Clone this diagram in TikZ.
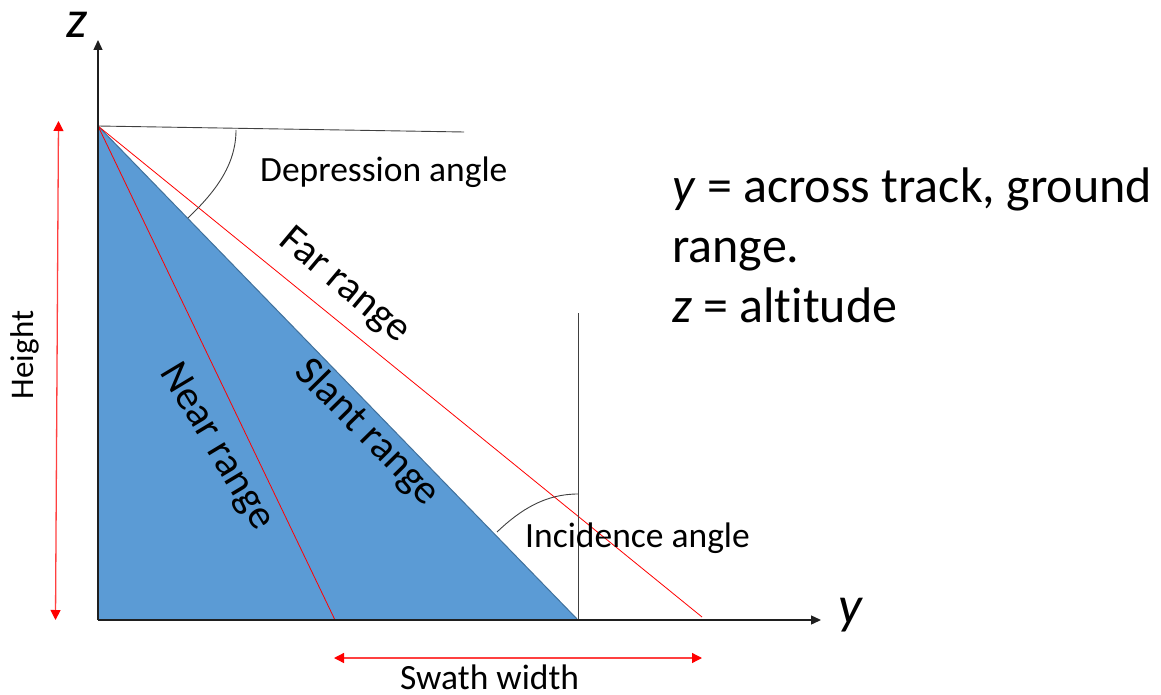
\documentclass[tikz,border=0pt]{standalone}
\usepackage{fontspec}
\setmainfont{Carlito}[Ligatures=NoCommon]
\usetikzlibrary{arrows.meta}
\definecolor{sarblue}{HTML}{5B9BD5}
\definecolor{saredge}{HTML}{41719C}
\definecolor{axisgray}{HTML}{1F1F1F}
\begin{document}
\begin{tikzpicture}[x=1pt,y=-1pt,
  axisline/.style={draw=axisgray,line width=1.3pt,-{Triangle[width=9pt,length=10pt]}},
  thinline/.style={draw=black!75,line width=0.9pt},
  redline/.style={draw=red,line width=0.8pt},
  redarrow/.style={draw=red!75,line width=1.3pt,{Triangle[width=10pt,length=10pt,fill=red,color=red]}-{Triangle[width=10pt,length=10pt,fill=red,color=red]}},
  lbl/.style={inner sep=0pt,font=\fontsize{35.5}{42}\selectfont},
  rlbl/.style={inner sep=0pt,font=\fontsize{41.5}{48}\selectfont},
  biglbl/.style={inner sep=0pt,font=\fontsize{50}{60}\selectfont},
  axlbl/.style={inner sep=0pt,font=\fontsize{53}{60}\selectfont\itshape}]
\useasboundingbox (0,0) rectangle (1161,695);
% key points
\coordinate (O) at (98,620);
\coordinate (T) at (98,126);
\coordinate (Ztop) at (98,40);
\coordinate (Yend) at (821,620);
\coordinate (Hend) at (464,132);
\coordinate (S) at (578,620);
\coordinate (N) at (335,620);
\coordinate (F) at (702,617);
\coordinate (V) at (578,313);
% blue triangle
\fill[sarblue] (T) -- (O) -- (S) -- cycle;
\draw[saredge,line width=1pt] (T) -- (S);
% ranges
\draw[redline] (T) -- (N);
\draw[redline] (T) -- (F);
% horizon and vertical
\draw[thinline] (T) -- (Hend);
\draw[thinline] (S) -- (V);
% angle arcs
\coordinate (DA1) at (236,130);
\coordinate (DA2) at (188,218);
\draw[thinline] (DA1) .. controls (236,166) and (214,193) .. (DA2);
\coordinate (IA1) at (578,494);
\coordinate (IA2) at (497,532);
\draw[thinline] (IA1) .. controls (546,494) and (521,509) .. (IA2);
% axes
\draw[axisline] (O) -- (Ztop);
\draw[axisline] (O) -- (Yend);
% dimension arrows
\coordinate (Ht) at (58.5,121);
\coordinate (Hb) at (55.5,620);
\draw[redarrow] (Ht) -- (Hb);
\coordinate (Wl) at (334,658);
\coordinate (Wr) at (702,658);
\draw[redarrow] (Wl) -- (Wr);
% labels
\node[axlbl,anchor=base] (zl) at (77,38) {z};
\node[axlbl,anchor=base] (yl) at (850,623) {y};
\node[lbl,anchor=base west] (dep) at (260,182) {Depression angle};
\node[lbl,anchor=base west] (inc) at (525,547) {Incidence angle};
\node[lbl,anchor=base west] (sw) at (400,689) {Swath width};
\node[inner sep=0pt,font=\fontsize{33}{40}\selectfont,rotate=90] (hl) at (25,355) {Height};
\node[rlbl,rotate=-40] (far) at (344,286) {Far range};
\node[rlbl,rotate=-45.5] (slant) at (367,433) {Slant range};
\node[rlbl,rotate=-59] (near) at (216,447) {Near range};
\node[biglbl,anchor=base west] (t1) at (672,202) {\textit{y} = across track, ground};
\node[biglbl,anchor=base west] (t2) at (672,262) {range.};
\node[biglbl,anchor=base west] (t3) at (672,322) {\textit{z} = altitude};
\end{tikzpicture}
\end{document}
